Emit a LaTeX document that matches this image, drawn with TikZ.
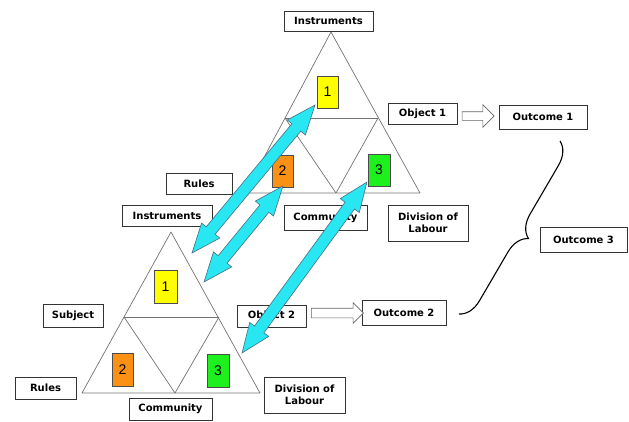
\documentclass[tikz,border=0pt]{standalone}
\usepackage{fontspec}
\setmainfont{DejaVu Sans}
\newfontfamily\digitfont{Liberation Sans}
\usetikzlibrary{shapes.arrows,calc,decorations.pathreplacing}

% double-headed block arrow stretched between two named points
\newcommand\linkarrow[3]{%
  \path let \p1=($(#3)-(#2)$), \n1={atan2(\y1,\x1)}, \n2={veclen(\x1,\y1)} in
    node[link, minimum height=\n2, rotate=\n1] (#1) at ($(#2)!0.5!(#3)$) {};}

\begin{document}
\begin{tikzpicture}[x=1pt,y=-1pt,
  lbl/.style={draw=black!80, fill=white, line width=0.8pt, inner sep=0pt,
    font=\fontsize{10}{11.5}\selectfont\bfseries, align=center},
  tri/.style={draw=black!55, line width=0.7pt, line join=round},
  num/.style={draw=black!70, line width=0.6pt, inner sep=0pt,
    font=\digitfont\fontsize{14}{14}\selectfont},
  hollow/.style={single arrow, draw=black!60, fill=white, line width=0.6pt,
    inner xsep=0pt, single arrow tip angle=90},
  link/.style={double arrow, draw=black!55!cyan, fill={rgb,255:red,40;green,230;blue,242},
    line width=0.6pt, inner xsep=0pt, inner ysep=5.5pt,
    double arrow head extend=6pt, double arrow tip angle=44},
]
\path[use as bounding box] (0,0) rectangle (629,421);

% upper activity system
\coordinate (tA) at (331,32);
\coordinate (tL) at (245,193);
\coordinate (tR) at (420,193);
\coordinate (tM) at (336,193);
\coordinate (tML) at (285,118);
\coordinate (tMR) at (378,118);
\draw[tri] (tA) -- (tL) -- (tR) -- cycle;
\draw[tri] (tML) -- (tMR);
\draw[tri] (tML) -- (tM) -- (tMR);

% lower activity system
\coordinate (bA) at (171,232);
\coordinate (bL) at (82,393);
\coordinate (bR) at (260,393);
\coordinate (bM) at (175,393);
\coordinate (bML) at (124,317);
\coordinate (bMR) at (219,317);
\draw[tri] (bA) -- (bL) -- (bR) -- cycle;
\draw[tri] (bML) -- (bMR);
\draw[tri] (bML) -- (bM) -- (bMR);

% numbered sub-triangle markers
\node[num, fill={rgb,255:red,255;green,255;blue,0}, minimum width=21pt, minimum height=32pt] (y1T) at (327.5,92) {1};
\node[num, fill={rgb,255:red,250;green,145;blue,20}, minimum width=21pt, minimum height=32pt] (o2T) at (282.5,171) {2};
\node[num, fill={rgb,255:red,30;green,240;blue,30}, minimum width=22pt, minimum height=32pt] (g3T) at (379,170) {3};
\node[num, fill={rgb,255:red,255;green,255;blue,0}, minimum width=23pt, minimum height=33pt] (y1B) at (165.5,286.5) {1};
\node[num, fill={rgb,255:red,250;green,145;blue,20}, minimum width=21pt, minimum height=33pt] (o2B) at (122.5,369.5) {2};
\node[num, fill={rgb,255:red,30;green,240;blue,30}, minimum width=22pt, minimum height=33pt] (g3B) at (218,370.5) {3};

% labels of the upper system
\node[lbl, minimum width=89pt, minimum height=20pt] (insT) at (328.5,21) {Instruments};
\node[lbl, minimum width=69pt, minimum height=21pt] (obj1) at (422.5,113.5) {Object 1};
\node[lbl, minimum width=88pt, minimum height=24pt] (out1) at (543,117) {Outcome 1};
\node[lbl, minimum width=66pt, minimum height=21pt] (rulesT) at (199,183.5) {Rules};
\node[lbl, minimum width=83pt, minimum height=25pt] (commT) at (325.5,217.5) {Community};
\node[lbl, minimum width=80pt, minimum height=36pt] (divT) at (428,223) {Division of\\Labour};

% labels of the lower system
\node[lbl, minimum width=90pt, minimum height=21pt] (insB) at (167,215.5) {Instruments};
\node[lbl, minimum width=60pt, minimum height=23pt] (subj) at (73,315.5) {Subject};
\node[lbl, minimum width=69pt, minimum height=22pt] (obj2) at (271.5,316) {Object 2};
\node[lbl, minimum width=84pt, minimum height=25pt] (out2) at (404,312.5) {Outcome 2};
\node[lbl, minimum width=61pt, minimum height=22pt] (rulesB) at (45.5,388) {Rules};
\node[lbl, minimum width=83pt, minimum height=22pt] (commB) at (170.5,409) {Community};
\node[lbl, minimum width=81pt, minimum height=36pt] (divB) at (304.5,395) {Division of\\Labour};

\node[lbl, minimum width=87pt, minimum height=25pt] (out3) at (583.5,239.5) {Outcome 3};

% object-to-outcome arrows
\node[hollow, minimum height=32pt, inner ysep=4pt, single arrow head extend=7pt] (h1) at (476,116) {};
\node[hollow, minimum height=52pt, inner ysep=4.5pt, single arrow head extend=5.5pt] (h2) at (335,313) {};

% brace joining both outcomes
\coordinate (brTop) at (560,141);
\coordinate (brBot) at (459,314);
\draw[decorate, decoration={brace, amplitude=22pt}, line width=1.1pt] (brTop) -- (brBot);

% links between corresponding sub-triangles
\coordinate (a1) at (315,105);
\coordinate (a2) at (192,253);
\coordinate (b1) at (283,186);
\coordinate (b2) at (204,282);
\coordinate (c1) at (367,182);
\coordinate (c2) at (242,353);
\linkarrow{lnkA}{a1}{a2}
\linkarrow{lnkB}{b1}{b2}
\linkarrow{lnkC}{c1}{c2}
\end{tikzpicture}
\end{document}
